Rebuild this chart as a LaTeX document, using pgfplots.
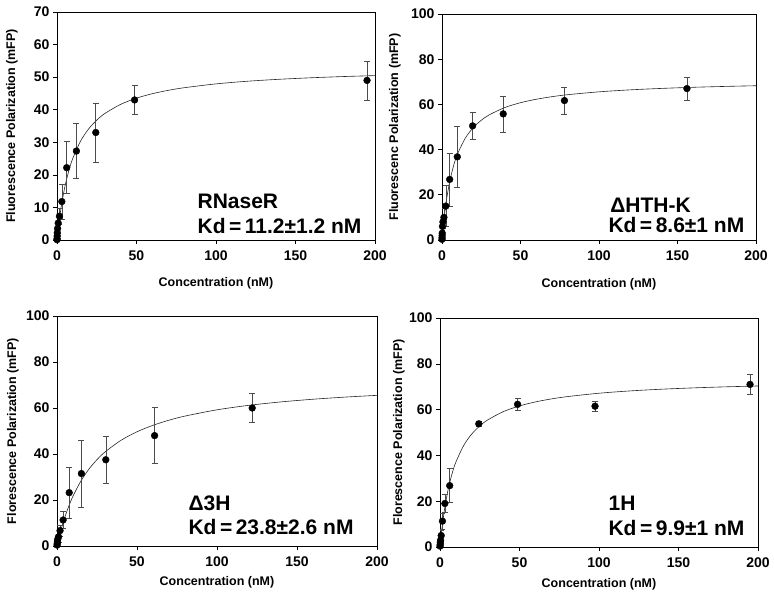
\documentclass[border=0pt]{standalone}
\usepackage{pgfplots}
\pgfplotsset{compat=1.18}
\usepackage{fontspec}
\setmainfont{Liberation Sans}
\tikzset{ann/.style={anchor=base west, font=\bfseries\fontsize{21}{21}\selectfont}}
\pgfplotsset{
  panel/.style={
    scale only axis,
    xmin=0, xmax=200, xtick={0,50,100,150,200},
    ymin=0,
    xtick pos=bottom, ytick pos=left,
    tick align=outside, major tick length=4pt,
    tick style={black, line width=0.6pt},
    axis line style={line width=0.7pt},
    /pgf/number format/assume math mode=true,
    tick label style={font=\bfseries\fontsize{14}{14}\selectfont},
    xticklabel style={yshift=-3pt},
    label style={font=\bfseries\fontsize{12.5}{13}\selectfont},
    xlabel={Concentration (nM)},
  },
  pts/.style={only marks, mark=*, mark size=3.4pt, black,
    error bars/.cd, y dir=both, y explicit,
    error bar style={line width=0.6pt, black!70},
    error mark=-,
    error mark options={rotate=90, line width=0.6pt, mark size=3pt, black!70}},
  fitline/.style={no marks, smooth, black!85, line width=0.6pt},
}
\begin{document}
\begin{tikzpicture}
\useasboundingbox (0,0) rectangle (774pt,603pt);
% ---------------- Panel 1 ----------------
\begin{axis}[panel, at={(57pt,363pt)}, anchor=south west,
  width=318pt, height=228pt, ymax=70, ytick={0,10,...,70},
  ylabel={Fluorescence Polarization (mFP)},
  xlabel style={at={(axis description cs:0.5,-0.206)}, anchor=base},
  ylabel style={at={(axis description cs:-0.142,0.5)}, anchor=center}]
\addplot[fitline] coordinates {(0,0) (1,4.37) (2,8.08) (3,11.26) (5,16.45) (7.5,21.38) (10,25.14) (15,30.52) (20,34.17) (25,36.81) (30,38.81) (40,41.64) (50,43.55) (60,44.92) (70,45.95) (80,46.75) (100,47.93) (120,48.75) (140,49.35) (160,49.81) (180,50.18) (200,50.47)};
\addplot[pts] table[x=x, y=y, y error=e] {
x y e
195 49 6
48.8 43 4.5
24.4 33 9
12.2 27.3 8.5
6.1 22.2 8
3.05 11.8 5.4
1.53 7.3 2.5
0.76 5.2 3
0.38 3.5 2
0.19 2.2 1.2
0.095 1.2 0.8
0.048 0.4 0.5
0.024 0.1 0.3
};
\node[ann] at (rel axis cs:0.431,0.139) {RNaseR};
\node[ann] at (rel axis cs:0.431,0.029) {Kd\,=\,11.2±1.2 nM};
\end{axis}
% ---------------- Panel 2 ----------------
\begin{axis}[panel, at={(442pt,363pt)}, anchor=south west,
  width=314pt, height=226pt, ymax=100, ytick={0,20,...,100},
  ylabel={Fluorescenc Polarization (mFP)},
  xlabel style={at={(axis description cs:0.5,-0.208)}, anchor=base},
  ylabel style={at={(axis description cs:-0.15,0.5)}, anchor=center}]
\addplot[fitline] coordinates {(0,0) (1,7.42) (2,13.43) (3,18.41) (5,26.18) (7.5,33.17) (10,38.28) (15,45.25) (20,49.79) (25,52.98) (30,55.34) (40,58.60) (50,60.75) (60,62.27) (70,63.41) (80,64.29) (100,65.56) (120,66.44) (140,67.08) (160,67.57) (180,67.95) (200,68.26)};
\addplot[pts] table[x=x, y=y, y error=e] {
x y e
156 67 5.2
78 61.7 6
39 55.8 8
19.5 50.5 6
9.75 36.8 13.7
4.88 26.8 11.7
2.44 15 9
1.22 10 4
0.61 8 3
0.3 6 2.5
0.15 3 1.5
0.076 2 1
0.038 1 0.6
0.019 0.3 0.3
};
\node[ann] at (rel axis cs:0.525,0.122) {ΔHTH-K};
\node[ann] at (rel axis cs:0.519,0.031) {Kd\,=\,8.6±1 nM};
\end{axis}
% ---------------- Panel 3 ----------------
\begin{axis}[panel, at={(57pt,57pt)}, anchor=south west,
  width=320pt, height=230pt, ymax=100, ytick={0,20,...,100},
  ylabel={Florescence Polarization (mFP)},
  xlabel style={at={(axis description cs:0.5,-0.17)}, anchor=base},
  ylabel style={at={(axis description cs:-0.1375,0.5)}, anchor=center}]
\addplot[fitline] coordinates {(0,0) (1,2.96) (2,5.68) (3,8.21) (5,12.73) (7.5,17.56) (10,21.69) (15,28.34) (20,33.47) (25,37.55) (30,40.87) (40,45.96) (50,49.66) (60,52.48) (70,54.70) (80,56.49) (100,59.21) (120,61.17) (140,62.65) (160,63.81) (180,64.74) (200,65.50)};
\addplot[pts] table[x=x, y=y, y error=e] {
x y e
122 60 6.2
61 48 12.2
30.5 37.5 10.1
15.25 31.5 14.5
7.63 23.2 11.2
3.81 11.3 3.7
1.91 6.7 2.3
0.95 4 2.5
0.48 3 2
0.24 2 1.2
0.12 1 0.8
0.06 0.4 0.4
};
\node[ann] at (rel axis cs:0.4,0.153) {Δ3H};
\node[ann] at (rel axis cs:0.4,0.048) {Kd\,=\,23.8±2.6 nM};
\end{axis}
% ---------------- Panel 4 ----------------
\begin{axis}[panel, at={(440pt,56pt)}, anchor=south west,
  width=318pt, height=229pt, ymax=100, ytick={0,20,...,100},
  ylabel={Florescence Polarization (mFP)},
  xlabel style={at={(axis description cs:0.5,-0.175)}, anchor=base},
  ylabel style={at={(axis description cs:-0.129,0.5)}, anchor=center}]
\addplot[fitline] coordinates {(0,0) (1,6.77) (2,12.40) (3,17.16) (5,24.77) (7.5,31.81) (10,37.09) (15,44.46) (20,49.36) (25,52.87) (30,55.49) (40,59.16) (50,61.60) (60,63.35) (70,64.66) (80,65.67) (100,67.15) (120,68.18) (140,68.93) (160,69.50) (180,69.95) (200,70.32)};
\addplot[pts] table[x=x, y=y, y error=e] {
x y e
195 71 4.5
97.5 61.5 2.2
48.8 62.3 2.5
24.4 53.8 1
6.1 26.8 7.4
3.05 19 4
1.53 11.3 3.5
0.76 5 2.5
0.38 3 1.5
0.19 2 1
0.095 1 0.5
0.048 0.4 0.3
};
\node[ann] at (rel axis cs:0.519,0.158) {1H};
\node[ann] at (rel axis cs:0.519,0.052) {Kd\,=\,9.9±1 nM};
\end{axis}
\end{tikzpicture}
\end{document}
